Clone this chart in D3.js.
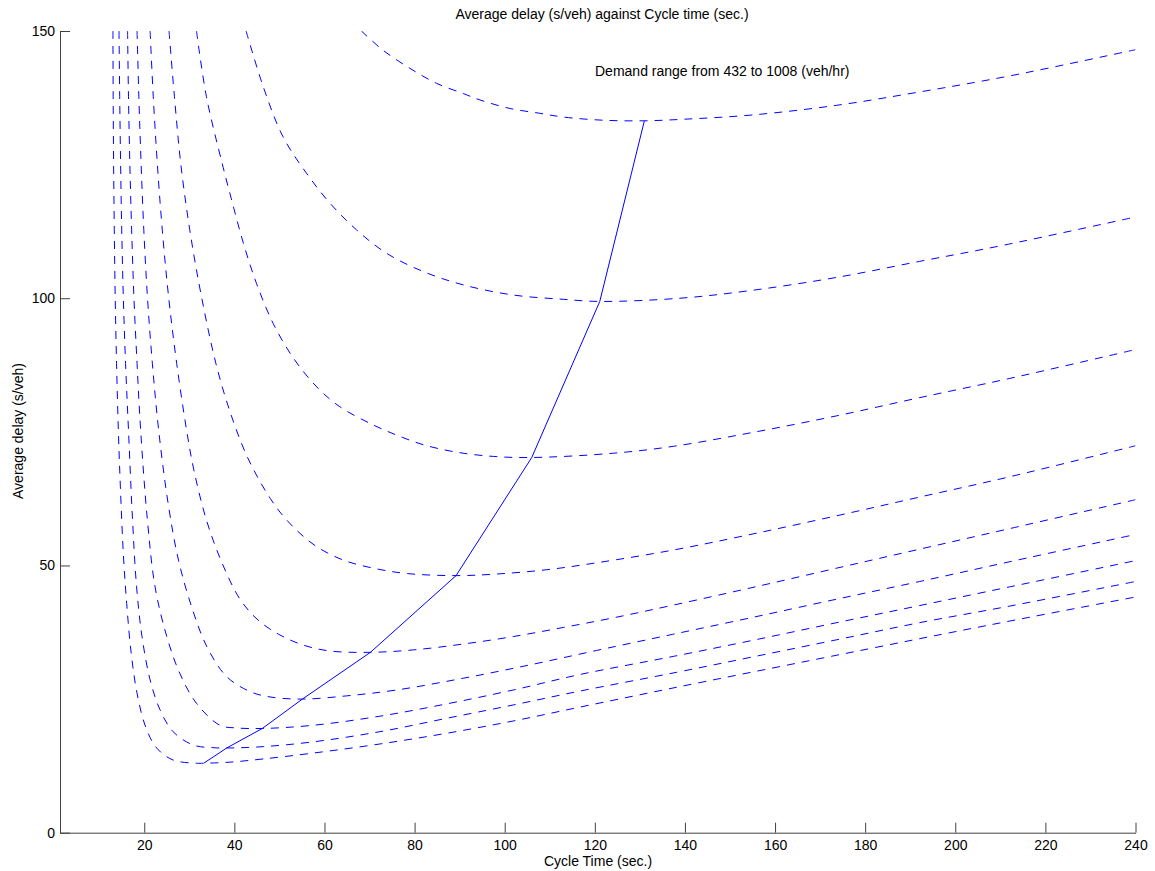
<!DOCTYPE html>
<html>
<head>
<meta charset="utf-8">
<script src="https://cdn.jsdelivr.net/npm/d3@7"></script>
<style>
  html, body { margin: 0; padding: 0; background: #fff; }
  svg { display: block; }
  text { font-family: "Liberation Sans", Arial, Helvetica, sans-serif; fill: #000; }
</style>
</head>
<body>
<svg id="chart" width="1155" height="871"></svg>
<script>
// ---- data ----
const demandLevels = [432, 504, 576, 648, 720, 792, 864, 936, 1008]; // veh/hr

// each curve: [cycle time (sec), average delay (s/veh)]
const delay432 = [[13.05,150],[13.1,137.7],[13.2,125.2],[13.35,112.8],[13.55,100.3],[13.85,87.8],[14.25,75.3],[14.7,64.7],[15.35,52.3],[16.1,42.9],[17.1,33.6],[18.4,26.1],[20.3,19.8],[22.8,15.8],[26.4,13.6],[31.6,13.0],[33.2,13.0],[39.0,13.2],[46.4,13.8],[57.5,14.9],[72.3,16.6],[87.1,18.6],[101.9,20.9],[116.7,23.5],[138.1,27.2],[167.7,32.2],[192.1,36.3],[212.1,39.6],[240,44.1]];
const delay504 = [[14.4,150],[14.55,137.7],[14.75,125.2],[15.0,112.8],[15.35,100.3],[15.85,87.8],[16.5,75.3],[17.4,58.5],[18.3,46.0],[19.5,36.7],[21.3,28.6],[23.5,23.0],[26.4,18.9],[30.9,16.4],[35.5,15.9],[38.3,15.85],[46.4,16.1],[57.5,17.0],[72.3,18.9],[87.1,21.4],[101.9,23.9],[116.7,26.5],[138.1,30.0],[155.1,32.9],[173.7,36.1],[192.1,39.3],[212.1,42.4],[240,47.0]];
const delay576 = [[16.3,150],[16.5,137.7],[16.8,125.2],[17.2,112.8],[17.7,100.3],[18.4,87.8],[19.2,75.3],[20.7,58.5],[22.4,46.0],[25.0,36.7],[27.9,29.8],[31.6,24.2],[36.8,20.1],[40.5,19.6],[46.2,19.5],[57.5,20.1],[72.3,21.8],[87.1,24.1],[101.9,26.7],[116.7,29.6],[137.5,33.0],[155.1,36.0],[173.7,39.3],[192.1,42.5],[212.1,46.0],[240,50.9]];
const delay648 = [[18.4,150],[18.8,137.7],[19.3,125.2],[19.9,112.8],[20.7,100.3],[21.8,87.8],[23.2,75.3],[25.3,61.6],[27.6,51.0],[30.5,42.3],[33.9,34.8],[38.3,29.2],[43.5,26.4],[47.9,25.4],[55.1,25.0],[64.9,25.6],[76.0,26.7],[90.8,28.9],[105.6,31.4],[120.4,34.1],[137.2,37.1],[155.1,40.3],[173.7,43.7],[192.1,47.0],[212.1,50.7],[240,55.8]];
const delay720 = [[21.3,150],[22.0,137.7],[22.9,125.2],[24.0,112.8],[25.4,100.3],[27.2,87.8],[29.4,75.3],[31.0,67.9],[33.8,58.5],[37.3,50.4],[41.4,43.5],[45.5,39.6],[50.1,37.0],[55.3,35.1],[61.2,34.0],[70.2,33.75],[79.7,34.2],[90.8,35.3],[101.9,36.7],[113.0,38.4],[124.1,40.2],[137.5,42.6],[155.1,45.9],[173.7,49.5],[192.1,53.05],[212.1,56.9],[240,62.3]];
const delay792 = [[25.5,150],[26.7,137.7],[28.1,125.2],[30.1,112.8],[32.7,100.3],[35.9,87.8],[38.9,79.1],[42.5,71.0],[45.5,66.0],[48.0,62.5],[50.3,59.8],[53.8,56.6],[58.3,53.5],[64.2,51.0],[70.8,49.5],[78.2,48.5],[89.2,48.1],[98.2,48.4],[109.3,49.2],[120.4,50.5],[137.5,52.9],[155.1,55.9],[173.7,59.3],[192.1,62.8],[212.1,66.6],[240,72.4]];
const delay864 = [[31.6,150],[33.8,137.7],[37.3,125.2],[39.3,118.7],[42.0,110.3],[44.9,102.8],[48.6,95.3],[53.1,88.8],[58.3,83.4],[63.4,79.7],[70.8,76.3],[76.0,74.4],[81.9,72.6],[89.3,71.2],[97.5,70.4],[106.0,70.2],[124.1,71.0],[137.5,72.3],[155.1,74.9],[173.7,78.0],[192.1,81.4],[212.1,85.0],[240,90.4]];
const delay936 = [[42.6,150],[46.4,139.6],[50.8,130.2],[56.0,123.4],[61.2,117.8],[67.1,112.8],[73.8,108.4],[81.9,105.0],[90.8,102.5],[101.9,100.6],[113.0,99.8],[121.1,99.4],[138.9,100.0],[155.1,101.5],[173.7,103.9],[192.1,106.9],[210.6,109.9],[240,115.2]];
const delay1008 = [[68.2,150],[73.0,146.4],[79.0,143.0],[84.9,140.2],[90.8,138.3],[94.5,137.1],[101.2,135.5],[107.8,134.6],[113.0,133.9],[122.0,133.3],[131.0,133.2],[140.0,133.5],[155.1,134.3],[173.7,136.1],[192.1,138.6],[212.1,141.6],[240,146.5]];

// optimum (minimum-delay) line
const optCycle = [33.2, 38.3, 46.2, 55.1, 70.2, 89.2, 106.0, 121.1, 131.0];
const optDelay = [13.0, 15.85, 19.5, 25.0, 33.75, 48.1, 70.2, 99.4, 133.2];

const xTicks = [20, 40, 60, 80, 100, 120, 140, 160, 180, 200, 220, 240];
const yTicks = [0, 50, 100, 150];

const titleText = "Average delay (s/veh) against Cycle time (sec.)";
const xLabel = "Cycle Time (sec.)";
const yLabel = "Average delay (s/veh)";
const noteText = "Demand range from 432 to 1008 (veh/hr)";

// ---- drawing ----
const svg = d3.select("#chart");
const plotLeft = 60, plotRight = 1135.5, plotTop = 31, plotBottom = 832.7;
const fontSize = 14;

const x = d3.scaleLinear().domain([1.3, 240]).range([plotLeft, plotRight]);
const y = d3.scaleLinear().domain([0, 150]).range([plotBottom, plotTop]);

svg.append("defs").append("clipPath").attr("id", "clip")
  .append("rect").attr("x", plotLeft).attr("y", plotTop)
  .attr("width", plotRight - plotLeft).attr("height", plotBottom - plotTop);

const curves = [delay432, delay504, delay576, delay648, delay720, delay792, delay864, delay936, delay1008];

const line = d3.line()
  .x(d => x(d[0]))
  .y(d => y(d[1]))
  .curve(d3.curveCatmullRom.alpha(0.5));

const g = svg.append("g").attr("clip-path", "url(#clip)");

g.selectAll("path.demand")
  .data(curves)
  .join("path")
  .attr("class", "demand")
  .attr("d", line)
  .attr("fill", "none")
  .attr("stroke", "#0000ff")
  .attr("stroke-width", 1)
  .attr("stroke-dasharray", "8,7");

const optPts = optCycle.map((c, i) => [c, optDelay[i]]);
g.append("path")
  .datum(optPts)
  .attr("d", d3.line().x(d => x(d[0])).y(d => y(d[1])))
  .attr("fill", "none")
  .attr("stroke", "#0000ff")
  .attr("stroke-width", 1);

// axes (MATLAB style: inward ticks, no box)
const axisColor = "#404040";
const xAxis = svg.append("g")
  .attr("transform", `translate(0,${plotBottom})`)
  .call(d3.axisBottom(x).tickValues(xTicks).tickSizeInner(-10).tickSizeOuter(0).tickPadding(7));
const yAxis = svg.append("g")
  .attr("transform", `translate(${plotLeft},0)`)
  .call(d3.axisLeft(y).tickValues(yTicks).tickSizeInner(-10).tickSizeOuter(0).tickPadding(5));

[xAxis, yAxis].forEach(a => {
  a.select(".domain").attr("stroke", axisColor).attr("stroke-width", 1);
  a.selectAll(".tick line").attr("stroke", axisColor).attr("stroke-width", 1);
  a.selectAll(".tick text")
    .attr("font-family", '"Liberation Sans", Arial, sans-serif')
    .attr("font-size", fontSize)
    .attr("fill", "#000");
});

// texts
svg.append("text")
  .attr("x", 602).attr("y", 19)
  .attr("text-anchor", "middle")
  .attr("font-size", fontSize)
  .text(titleText);

svg.append("text")
  .attr("x", 598).attr("y", 866)
  .attr("text-anchor", "middle")
  .attr("font-size", fontSize)
  .text(xLabel);

svg.append("text")
  .attr("transform", "translate(23,431) rotate(-90)")
  .attr("text-anchor", "middle")
  .attr("font-size", fontSize)
  .text(yLabel);

svg.append("text")
  .attr("x", 595).attr("y", 75.5)
  .attr("font-size", fontSize)
  .text(noteText);
</script>
</body>
</html>
